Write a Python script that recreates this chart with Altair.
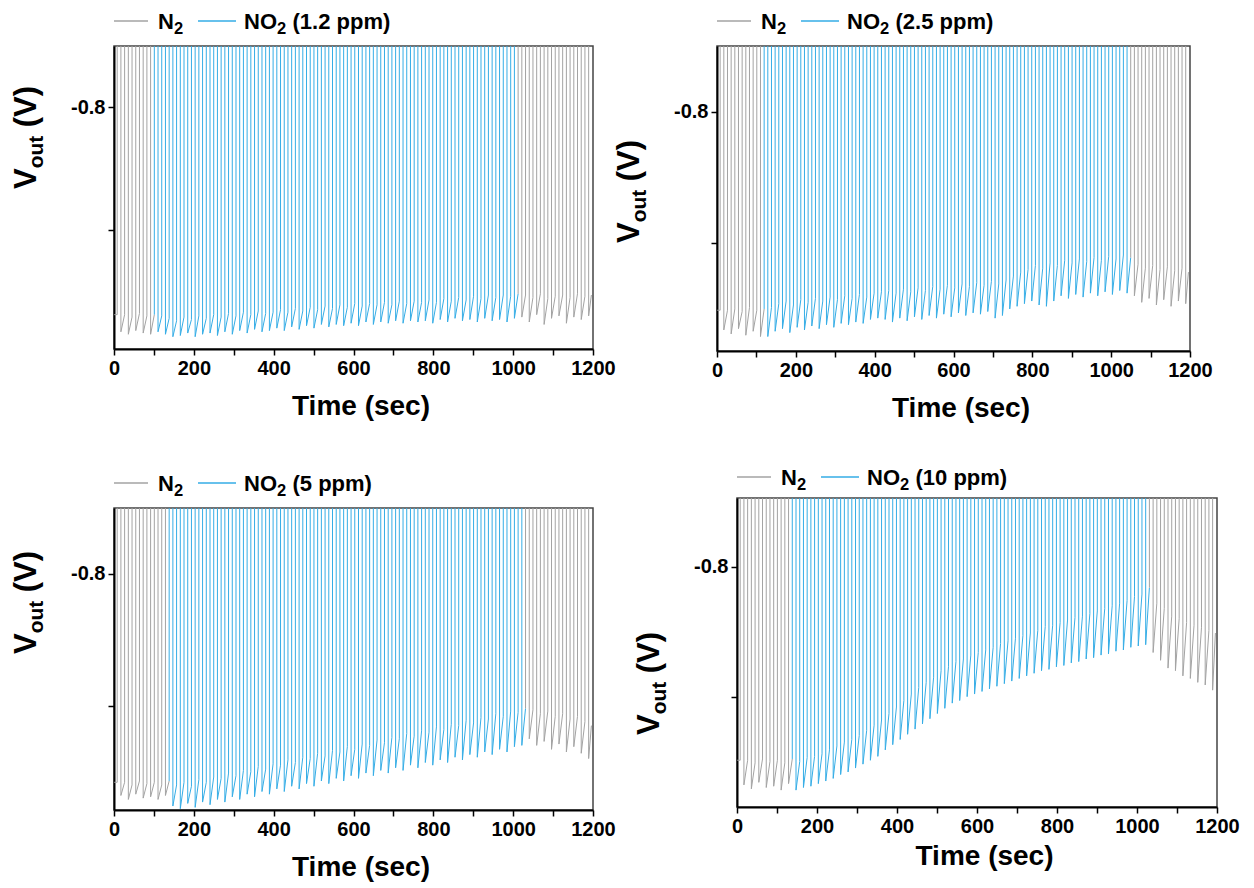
import altair as alt
import pandas as pd

# ---------------- data ----------------
# spike (N2 pulse) times in seconds, shared acquisition timing
spike_t = [8.0, 26.6, 45.2, 63.8, 82.4, 101.0, 119.6, 138.2, 156.8, 175.4,
           194.0, 212.6, 231.2, 249.8, 268.4, 287.0, 305.6, 324.2, 342.8, 361.4,
           380.0, 398.6, 417.2, 435.8, 454.4, 473.0, 491.6, 510.2, 528.8, 547.4,
           566.0, 584.6, 603.2, 621.8, 640.4, 659.0, 677.6, 696.2, 714.8, 733.4,
           752.0, 770.6, 789.2, 807.8, 826.4, 845.0, 863.6, 882.2, 900.8, 919.4,
           938.0, 956.6, 975.2, 993.8, 1012.4, 1031.0, 1049.6, 1068.2, 1086.8, 1105.4,
           1124.0, 1142.6, 1161.2, 1179.8]

# panel 1 : NO2 1.2 ppm  (H = level before next pulse, L = minimum after pulse)
p1_H = [-0.969, -0.971, -0.968, -0.970, -0.969,
        -0.970, -0.972, -0.974, -0.971, -0.973, -0.970, -0.972, -0.969, -0.971, -0.968,
        -0.970, -0.967, -0.969, -0.966, -0.968, -0.967,
        -0.965, -0.967, -0.964, -0.966, -0.963, -0.965, -0.962, -0.964, -0.961, -0.963,
        -0.960, -0.962, -0.960, -0.961, -0.959, -0.961, -0.958, -0.960, -0.958, -0.959,
        -0.957, -0.959, -0.956, -0.958, -0.955, -0.957, -0.954, -0.956, -0.953, -0.955,
        -0.953, -0.954, -0.952,
        -0.953, -0.955, -0.952, -0.956, -0.954, -0.953, -0.955, -0.952, -0.954, -0.953]
p1_L = [-0.983, -0.985, -0.982, -0.984, -0.985,
        -0.983, -0.985, -0.987, -0.986, -0.984, -0.987, -0.985, -0.984, -0.986, -0.983,
        -0.985, -0.982, -0.984, -0.981, -0.983, -0.982,
        -0.980, -0.982, -0.979, -0.981, -0.978, -0.980, -0.977, -0.979, -0.977, -0.978,
        -0.976, -0.978, -0.975, -0.977, -0.975, -0.976, -0.974, -0.976, -0.974, -0.975,
        -0.974, -0.976, -0.973, -0.975, -0.972, -0.974, -0.973, -0.975, -0.972, -0.974,
        -0.973, -0.975, -0.972,
        -0.971, -0.975, -0.969, -0.977, -0.972, -0.970, -0.976, -0.971, -0.973, -0.970]

# panel 2 : NO2 2.5 ppm
p2_H = [-0.951, -0.950, -0.952, -0.949, -0.951, -0.950,
        -0.949, -0.946, -0.944, -0.947, -0.943, -0.945, -0.942, -0.944, -0.941, -0.943,
        -0.940, -0.942, -0.939, -0.941, -0.938, -0.937,
        -0.936, -0.938, -0.935, -0.937, -0.934, -0.936, -0.933, -0.935, -0.932, -0.934,
        -0.931, -0.933, -0.930, -0.932, -0.929, -0.931, -0.928,
        -0.925, -0.922, -0.920, -0.917, -0.919, -0.915, -0.917, -0.913, -0.915, -0.912,
        -0.914, -0.911, -0.913, -0.910, -0.912, -0.909, -0.911,
        -0.916, -0.919, -0.917, -0.920, -0.918, -0.921, -0.919, -0.922]
p2_L = [-0.966, -0.969, -0.965, -0.970, -0.967, -0.971,
        -0.971, -0.967, -0.965, -0.968, -0.964, -0.966, -0.963, -0.965, -0.962, -0.964,
        -0.961, -0.962, -0.960, -0.961, -0.958, -0.957,
        -0.958, -0.960, -0.957, -0.959, -0.956, -0.958, -0.955, -0.957, -0.954, -0.956,
        -0.953, -0.955, -0.953, -0.954, -0.952, -0.957, -0.955,
        -0.950, -0.948, -0.946, -0.944, -0.947, -0.948, -0.944, -0.940, -0.942, -0.939,
        -0.941, -0.938, -0.940, -0.937, -0.939, -0.936, -0.938,
        -0.940, -0.945, -0.942, -0.947, -0.943, -0.948, -0.944, -0.946]

# panel 3 : NO2 5 ppm
p3_H = [-0.958, -0.960, -0.957, -0.959, -0.958, -0.960, -0.957,
        -0.960, -0.958, -0.961, -0.956, -0.958, -0.954, -0.955, -0.951, -0.953, -0.949,
        -0.950, -0.946, -0.948, -0.944, -0.945, -0.941, -0.943, -0.939, -0.940, -0.936,
        -0.938, -0.934, -0.935, -0.931, -0.933, -0.929, -0.930, -0.926, -0.928, -0.924,
        -0.925, -0.921, -0.923, -0.919, -0.920, -0.916, -0.918, -0.914, -0.915, -0.911,
        -0.913, -0.909, -0.910, -0.906, -0.908, -0.904, -0.905, -0.902,
        -0.903, -0.906, -0.904, -0.908, -0.906, -0.910, -0.908, -0.912, -0.915]
p3_L = [-0.968, -0.971, -0.967, -0.970, -0.969, -0.971, -0.968,
        -0.976, -0.978, -0.974, -0.977, -0.973, -0.975, -0.971, -0.973, -0.969, -0.971,
        -0.967, -0.969, -0.965, -0.967, -0.963, -0.965, -0.961, -0.963, -0.959, -0.961,
        -0.957, -0.959, -0.955, -0.957, -0.953, -0.955, -0.951, -0.953, -0.949, -0.951,
        -0.947, -0.949, -0.945, -0.947, -0.943, -0.945, -0.941, -0.943, -0.939, -0.941,
        -0.937, -0.939, -0.935, -0.937, -0.933, -0.935, -0.931, -0.930,
        -0.925, -0.930, -0.927, -0.933, -0.929, -0.935, -0.931, -0.936, -0.940]

# panel 4 : NO2 10 ppm
p4_H = [-0.949, -0.951, -0.948, -0.950, -0.949, -0.951, -0.948,
        -0.950, -0.947, -0.946, -0.944, -0.941, -0.938, -0.935, -0.933, -0.930, -0.926,
        -0.922, -0.918, -0.913, -0.908, -0.903, -0.898, -0.893, -0.889, -0.885, -0.880,
        -0.877, -0.873, -0.871, -0.868, -0.866, -0.864, -0.862, -0.859, -0.857, -0.855,
        -0.853, -0.851, -0.849, -0.846, -0.845, -0.843, -0.841, -0.839, -0.838, -0.836,
        -0.834, -0.832, -0.830, -0.828, -0.826, -0.823, -0.821, -0.816, -0.828,
        -0.832, -0.838, -0.840, -0.843, -0.845, -0.847, -0.849, -0.851]
p4_L = [-0.968, -0.971, -0.966, -0.970, -0.969, -0.972, -0.967,
        -0.972, -0.970, -0.969, -0.967, -0.965, -0.963, -0.960, -0.958, -0.955, -0.952,
        -0.949, -0.946, -0.941, -0.937, -0.933, -0.929, -0.925, -0.921, -0.917, -0.913,
        -0.909, -0.905, -0.903, -0.900, -0.898, -0.896, -0.894, -0.892, -0.890, -0.888,
        -0.886, -0.884, -0.882, -0.880, -0.879, -0.877, -0.876, -0.874, -0.873, -0.871,
        -0.870, -0.868, -0.867, -0.865, -0.864, -0.862, -0.861, -0.860, -0.866,
        -0.872, -0.878, -0.880, -0.884, -0.886, -0.889, -0.891, -0.895]

# first / last pulse index recorded under NO2
no2_range = [(5, 53), (6, 55), (7, 54), (7, 54)]
no2_labels = ["(1.2 ppm)", "(2.5 ppm)", "(5 ppm)", "(10 ppm)"]
y_domains = [(-0.997, -0.75), (-0.982, -0.75), (-0.979, -0.75), (-0.985, -0.747)]
x_ticks = [0, 100, 200, 300, 400, 500, 600, 700, 800, 900, 1000, 1100, 1200]
y_ticks = [-0.9, -0.8]

# ---------------- styling ----------------
FONT = "Liberation Sans"
GRAY = "#a3a3a3"
BLUE = "#35ade6"
PULSE_TOP = -0.5      # pulses run off the top of the plot
PULSE_LEN = 9.3
END_T = 1196.0


def trace_table(H, L, first, last):
    rows = [dict(t=0.5, v=H[0], phase="N2", seg=0, i=0)]
    i = 0
    n = len(spike_t)
    for k in range(n):
        t0 = spike_t[k]
        t1 = spike_t[k + 1] if k + 1 < n else END_T
        prev = H[k - 1] if k > 0 else H[0]
        if k < first:
            seg, ph = 0, "N2"
        elif k <= last:
            seg, ph = 1, "NO2"
        else:
            seg, ph = 2, "N2"
        for t, v in [(t0, prev), (t0, PULSE_TOP), (t0 + PULSE_LEN, PULSE_TOP),
                     (t0 + PULSE_LEN, L[k]), (t1, H[k])]:
            i += 1
            rows.append(dict(t=t, v=v, phase=ph, seg=seg, i=i))
    return pd.DataFrame(rows)


one = pd.DataFrame({"k": [0]})


def txt(s, x, y, size, angle=0):
    return alt.Chart(one).mark_text(
        text=s, font=FONT, fontWeight="bold", fontSize=size, angle=angle,
        align="left", baseline="alphabetic", color="black"
    ).encode(x=alt.value(x), y=alt.value(y))


def hline(x1, x2, y, color, opacity=1.0, width=1.5):
    return alt.Chart(one).mark_rule(color=color, strokeWidth=width, opacity=opacity).encode(
        x=alt.value(x1), x2=alt.value(x2), y=alt.value(y))


def panel(idx, H, L, w, h, frame, leg_y, title_y, tpad):
    first, last = no2_range[idx]
    df = trace_table(H, L, first, last)
    lo, hi = y_domains[idx]
    xaxis = alt.Axis(values=x_ticks, format="d",
                     labelExpr="datum.value % 200 == 0 ? datum.label : ''",
                     title="Time (sec)", titleFont=FONT, titleFontSize=28, titleFontWeight="bold",
                     titleColor="black", titlePadding=tpad, titleX=w / 2 + 7,
                     labelFont=FONT, labelFontSize=20, labelFontWeight="bold", labelColor="black",
                     labelPadding=3, labelFlush=False, labelOverlap=False,
                     tickSize=6, tickWidth=1.5, tickColor="black",
                     domainColor="black", domainWidth=2, grid=False)
    yaxis = alt.Axis(values=y_ticks, title=None,
                     labelExpr="abs(datum.value + 0.8) < 0.001 ? '-0.8' : ''",
                     labelFont=FONT, labelFontSize=20, labelFontWeight="bold", labelColor="black",
                     labelPadding=3, labelFlush=False, labelOverlap=False,
                     tickSize=6, tickWidth=1.5, tickColor="black",
                     domainColor="black", domainWidth=2, grid=False)
    line = alt.Chart(df).mark_line(clip=True, strokeWidth=1).encode(
        x=alt.X("t:Q", scale=alt.Scale(domain=[0, 1200], nice=False), axis=xaxis),
        y=alt.Y("v:Q", scale=alt.Scale(domain=[lo, hi], nice=False, zero=False), axis=yaxis),
        color=alt.Color("phase:N", scale=alt.Scale(domain=["N2", "NO2"], range=[GRAY, BLUE]),
                        legend=None),
        detail="seg:N",
        order="i:Q",
    )
    Lx, T, R, B = frame
    ly = leg_y
    layers = [
        line,
        # legend
        hline(0, 34, ly, GRAY),
        txt("N", 44, ly + 7.5, 22),
        txt("2", 59.9, ly + 13, 16.5),
        hline(84, 122, ly, BLUE),
        txt("NO", 130, ly + 7.5, 22),
        txt("2", 163, ly + 13, 16.5),
        txt(no2_labels[idx], 178.5, ly + 7.5, 22),
        # y title  V_out (V)
        txt("V", -78, title_y, 31, angle=270),
        txt("out", -71, title_y - 20.7, 21, angle=270),
        txt("(V)", -78, title_y - 61.8, 31, angle=270),
        # invisible layout frame
        hline(-Lx, w + R, -T, "white", opacity=0, width=0.1),
        hline(-Lx, w + R, h + B, "white", opacity=0, width=0.1),
    ]
    return alt.layer(*layers).properties(width=w, height=h)


c1 = panel(0, p1_H, p1_L, 479, 303, (105, 37, 25, 80), -25, 143, 14)
c2 = panel(1, p2_H, p2_L, 473, 305, (107, 36, 25, 78), -25, 197, 14)
c3 = panel(2, p3_H, p3_L, 479, 302, (105, 87, 25, 80), -25, 146, 14)
c4 = panel(3, p4_H, p4_L, 480, 309, (127, 77, 25, 80), -21, 237, 6)

chart = alt.concat(c1, c2, c3, c4, columns=2, spacing=-10, align="none", bounds="full").properties(
    padding=0, background="white"
).configure_view(stroke="#444", strokeWidth=1.5)

chart.save("out.html", embed_options={"renderer": "svg", "actions": False})
